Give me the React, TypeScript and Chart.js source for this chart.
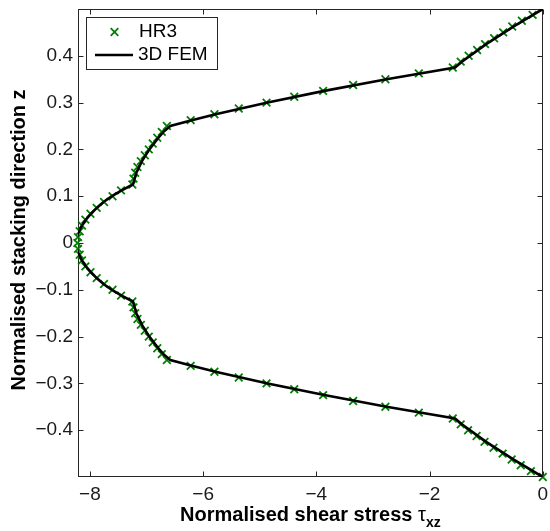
import React, { useEffect, useRef } from "react";
import { Chart, registerables } from "chart.js";

Chart.register(...registerables);

// ---- data ----
const hr3Z = [
  0.4875, 0.475, 0.4625, 0.45, 0.4375, 0.425, 0.4125, 0.4, 0.3875, 0.375,
  0.3625, 0.35, 0.3375, 0.325, 0.3125, 0.3, 0.2875, 0.275, 0.2625, 0.25,
  0.2375, 0.225, 0.2125, 0.2, 0.1875, 0.175, 0.1625, 0.15, 0.1375, 0.125,
  0.1125, 0.1, 0.0875, 0.075, 0.0625, 0.05, 0.0375, 0.025, 0.0125, 0,
  -0.0125, -0.025, -0.0375, -0.05, -0.0625, -0.075, -0.0875, -0.1, -0.1125, -0.125,
  -0.1375, -0.15, -0.1625, -0.175, -0.1875, -0.2, -0.2125, -0.225, -0.2375, -0.25,
  -0.2625, -0.275, -0.2875, -0.3, -0.3125, -0.325, -0.3375, -0.35, -0.3625, -0.375,
  -0.3875, -0.4, -0.4125, -0.425, -0.4375, -0.45, -0.4625, -0.475, -0.4875, -0.5,
];
const hr3Tau = [
  -0.18, -0.37, -0.54, -0.7, -0.86, -1.02, -1.16, -1.31, -1.45, -1.59,
  -2.19, -2.78, -3.35, -3.88, -4.39, -4.88, -5.37, -5.8, -6.22, -6.64,
  -6.73, -6.81, -6.89, -6.96, -7.03, -7.1, -7.16, -7.2, -7.23, -7.25,
  -7.45, -7.6, -7.75, -7.88, -7.99, -8.08, -8.14, -8.18, -8.21, -8.22,
  -8.21, -8.18, -8.14, -8.08, -7.99, -7.88, -7.75, -7.6, -7.45, -7.25,
  -7.23, -7.2, -7.16, -7.1, -7.03, -6.96, -6.89, -6.81, -6.73, -6.64,
  -6.22, -5.8, -5.37, -4.88, -4.39, -3.88, -3.35, -2.78, -2.19, -1.59,
  -1.45, -1.32, -1.17, -1.03, -0.87, -0.71, -0.55, -0.39, -0.21, 0,
];
const femZ = [
  0.5, 0.4625, 0.425, 0.3875, 0.375, 0.35, 0.325, 0.3, 0.275, 0.2625, 0.25,
  0.2375, 0.225, 0.2, 0.175, 0.15, 0.125, 0.1125, 0.1, 0.0875, 0.075, 0.0625,
  0.05, 0.0375, 0.025, 0.0125, 0,
  -0.0125, -0.025, -0.0375, -0.05, -0.0625, -0.075, -0.0875, -0.1, -0.1125, -0.125,
  -0.15, -0.175, -0.2, -0.225, -0.2375, -0.25, -0.2625, -0.275, -0.3, -0.325,
  -0.35, -0.375, -0.3875, -0.425, -0.4625, -0.5,
];
const femTau = [
  0, -0.52, -1.0, -1.43, -1.55, -2.76, -3.86, -4.86, -5.78, -6.2, -6.58,
  -6.7, -6.79, -6.95, -7.08, -7.18, -7.24, -7.44, -7.61, -7.76, -7.88, -7.98,
  -8.07, -8.14, -8.19, -8.23, -8.25,
  -8.23, -8.19, -8.14, -8.07, -7.98, -7.88, -7.76, -7.61, -7.44, -7.24,
  -7.18, -7.08, -6.95, -6.79, -6.7, -6.58, -6.2, -5.78, -4.86, -3.86,
  -2.76, -1.55, -1.43, -1.0, -0.52, 0,
];
const xTicks = [-8, -6, -4, -2, 0];
const yTicks = [-0.4, -0.3, -0.2, -0.1, 0, 0.1, 0.2, 0.3, 0.4];
const xMin = -8.21;
const xMax = 0;
const yMin = -0.5;
const yMax = 0.5;
const seriesLabels = ["HR3", "3D FEM"];
const xTitleMain = "Normalised shear stress ";
const xTitleSymbol = "\u03C4";
const xTitleSub = "xz";
const yTitle = "Normalised stacking direction z";

// ---- styles ----
const FONT = "'Liberation Sans', Arial, Helvetica, sans-serif";
const AXIS_COLOR = "#262626";
const HR3_COLOR = "#008000";
const FEM_COLOR = "#000000";

function fmt(v: number): string {
  if (v === 0) return "0";
  const a = Math.abs(v);
  const s = Number.isInteger(a) ? a.toFixed(0) : a.toFixed(1);
  return (v < 0 ? "\u2212" : "") + s;
}

function drawCross(ctx: CanvasRenderingContext2D, x: number, y: number, r: number) {
  ctx.beginPath();
  ctx.moveTo(x - r, y - r);
  ctx.lineTo(x + r, y + r);
  ctx.moveTo(x - r, y + r);
  ctx.lineTo(x + r, y - r);
  ctx.stroke();
}

const matlabPlugin = {
  id: "matlabAxes",
  beforeDatasetsDraw(chart: any) {
    const { ctx, chartArea: a, scales } = chart;
    const L = Math.round(a.left) + 0.5;
    const R = Math.round(a.right) - 0.5;
    const T = Math.round(a.top) + 0.5;
    const B = Math.round(a.bottom) - 0.5;
    ctx.save();
    ctx.strokeStyle = AXIS_COLOR;
    ctx.lineWidth = 1;
    ctx.strokeRect(L, T, R - L, B - T);
    const tl = 5;
    ctx.beginPath();
    for (const v of xTicks) {
      const px = Math.round(scales.x.getPixelForValue(v)) + 0.5;
      ctx.moveTo(px, B);
      ctx.lineTo(px, B - tl);
      ctx.moveTo(px, T);
      ctx.lineTo(px, T + tl);
    }
    for (const v of yTicks) {
      const py = Math.round(scales.y.getPixelForValue(v)) + 0.5;
      ctx.moveTo(L, py);
      ctx.lineTo(L + tl, py);
      ctx.moveTo(R, py);
      ctx.lineTo(R - tl, py);
    }
    ctx.stroke();
    ctx.restore();
  },
  afterDraw(chart: any) {
    const { ctx, chartArea: a } = chart;
    ctx.save();
    // legend
    const lx = 86.5, ly = 17.5, lw = 131, lh = 52;
    ctx.fillStyle = "#ffffff";
    ctx.fillRect(lx, ly, lw, lh);
    ctx.strokeStyle = AXIS_COLOR;
    ctx.lineWidth = 1;
    ctx.strokeRect(lx, ly, lw, lh);
    ctx.font = `19px ${FONT}`;
    ctx.fillStyle = "#000";
    ctx.textAlign = "left";
    ctx.textBaseline = "middle";
    // row 1: HR3 marker
    ctx.strokeStyle = HR3_COLOR;
    ctx.lineWidth = 1.8;
    drawCross(ctx, 114.5, 32, 3.8);
    ctx.fillText(seriesLabels[0], 139, 32);
    // row 2: FEM line
    ctx.strokeStyle = FEM_COLOR;
    ctx.lineWidth = 2.5;
    ctx.beginPath();
    ctx.moveTo(95, 55);
    ctx.lineTo(133, 55);
    ctx.stroke();
    ctx.fillText(seriesLabels[1], 138, 55);

    // y title
    ctx.save();
    ctx.translate(19, (a.top + a.bottom) / 2 - 3);
    ctx.rotate(-Math.PI / 2);
    ctx.font = `bold 20px ${FONT}`;
    ctx.textAlign = "center";
    ctx.textBaseline = "middle";
    ctx.fillStyle = "#000";
    ctx.fillText(yTitle, 0, 0);
    ctx.restore();

    // x title with subscript
    const fMain = `bold 20px ${FONT}`;
    const fSym = `20px ${FONT}`;
    const fSub = `bold 14px ${FONT}`;
    ctx.font = fMain;
    const w1 = ctx.measureText(xTitleMain).width;
    ctx.font = fSym;
    const w2 = ctx.measureText(xTitleSymbol).width;
    ctx.font = fSub;
    const w3 = ctx.measureText(xTitleSub).width;
    const total = w1 + w2 + w3;
    let x0 = (a.left + a.right) / 2 - total / 2;
    const base = 521;
    ctx.textAlign = "left";
    ctx.textBaseline = "alphabetic";
    ctx.fillStyle = "#000";
    ctx.font = fMain;
    ctx.fillText(xTitleMain, x0, base);
    x0 += w1;
    ctx.font = fSym;
    ctx.fillText(xTitleSymbol, x0, base);
    x0 += w2;
    ctx.font = fSub;
    ctx.fillText(xTitleSub, x0, base + 6);
    ctx.restore();
  },
};

export default function App() {
  const canvasRef = useRef<HTMLCanvasElement | null>(null);

  useEffect(() => {
    document.body.style.margin = "0";
    const canvas = canvasRef.current;
    if (!canvas) return;
    const femPoints = femZ.map((z, i) => ({ x: femTau[i], y: z }));
    const hr3Points = hr3Z.map((z, i) => ({ x: hr3Tau[i], y: z }));
    const tickFont = { family: FONT, size: 19 };
    const chart = new Chart(canvas, {
      type: "scatter",
      data: {
        datasets: [
          {
            label: seriesLabels[1],
            data: femPoints,
            showLine: true,
            borderColor: FEM_COLOR,
            backgroundColor: FEM_COLOR,
            borderWidth: 2.6,
            pointRadius: 0,
            tension: 0,
            fill: false,
            order: 0,
          },
          {
            label: seriesLabels[0],
            data: hr3Points,
            showLine: false,
            pointStyle: "crossRot",
            pointRadius: 5.4,
            pointBorderColor: HR3_COLOR,
            pointBackgroundColor: HR3_COLOR,
            pointBorderWidth: 1.8,
            borderColor: HR3_COLOR,
            backgroundColor: HR3_COLOR,
            clip: false,
            order: 1,
          },
        ],
      } as any,
      options: {
        animation: false,
        responsive: true,
        maintainAspectRatio: false,
        events: [],
        layout: { padding: { top: 9, right: 5, left: 0, bottom: 0 } },
        plugins: { legend: { display: false }, tooltip: { enabled: false } },
        scales: {
          x: {
            type: "linear",
            min: xMin,
            max: xMax,
            afterBuildTicks: (s: any) => {
              s.ticks = xTicks.map((v) => ({ value: v }));
            },
            afterFit: (s: any) => {
              s.height = 54;
              s.paddingLeft = 0;
              s.paddingRight = 0;
              s.paddingTop = 0;
              s.paddingBottom = 0;
            },
            grid: { display: false, drawTicks: false },
            border: { display: false },
            ticks: {
              callback: (v: any) => fmt(Number(v)),
              font: tickFont,
              color: "#1a1a1a",
              padding: 6,
              maxRotation: 0,
              autoSkip: false,
            },
          },
          y: {
            type: "linear",
            min: yMin,
            max: yMax,
            afterBuildTicks: (s: any) => {
              s.ticks = yTicks.map((v) => ({ value: v }));
            },
            afterFit: (s: any) => {
              s.width = 78;
              s.paddingLeft = 0;
              s.paddingRight = 0;
              s.paddingTop = 0;
              s.paddingBottom = 0;
            },
            grid: { display: false, drawTicks: false },
            border: { display: false },
            ticks: {
              callback: (v: any) => fmt(Number(v)),
              font: tickFont,
              color: "#1a1a1a",
              padding: 5,
              autoSkip: false,
            },
          },
        },
      } as any,
      plugins: [matlabPlugin],
    });
    return () => chart.destroy();
  }, []);

  return (
    <div style={{ width: 550, height: 531, position: "relative", background: "#fff" }}>
      <canvas ref={canvasRef} />
    </div>
  );
}
